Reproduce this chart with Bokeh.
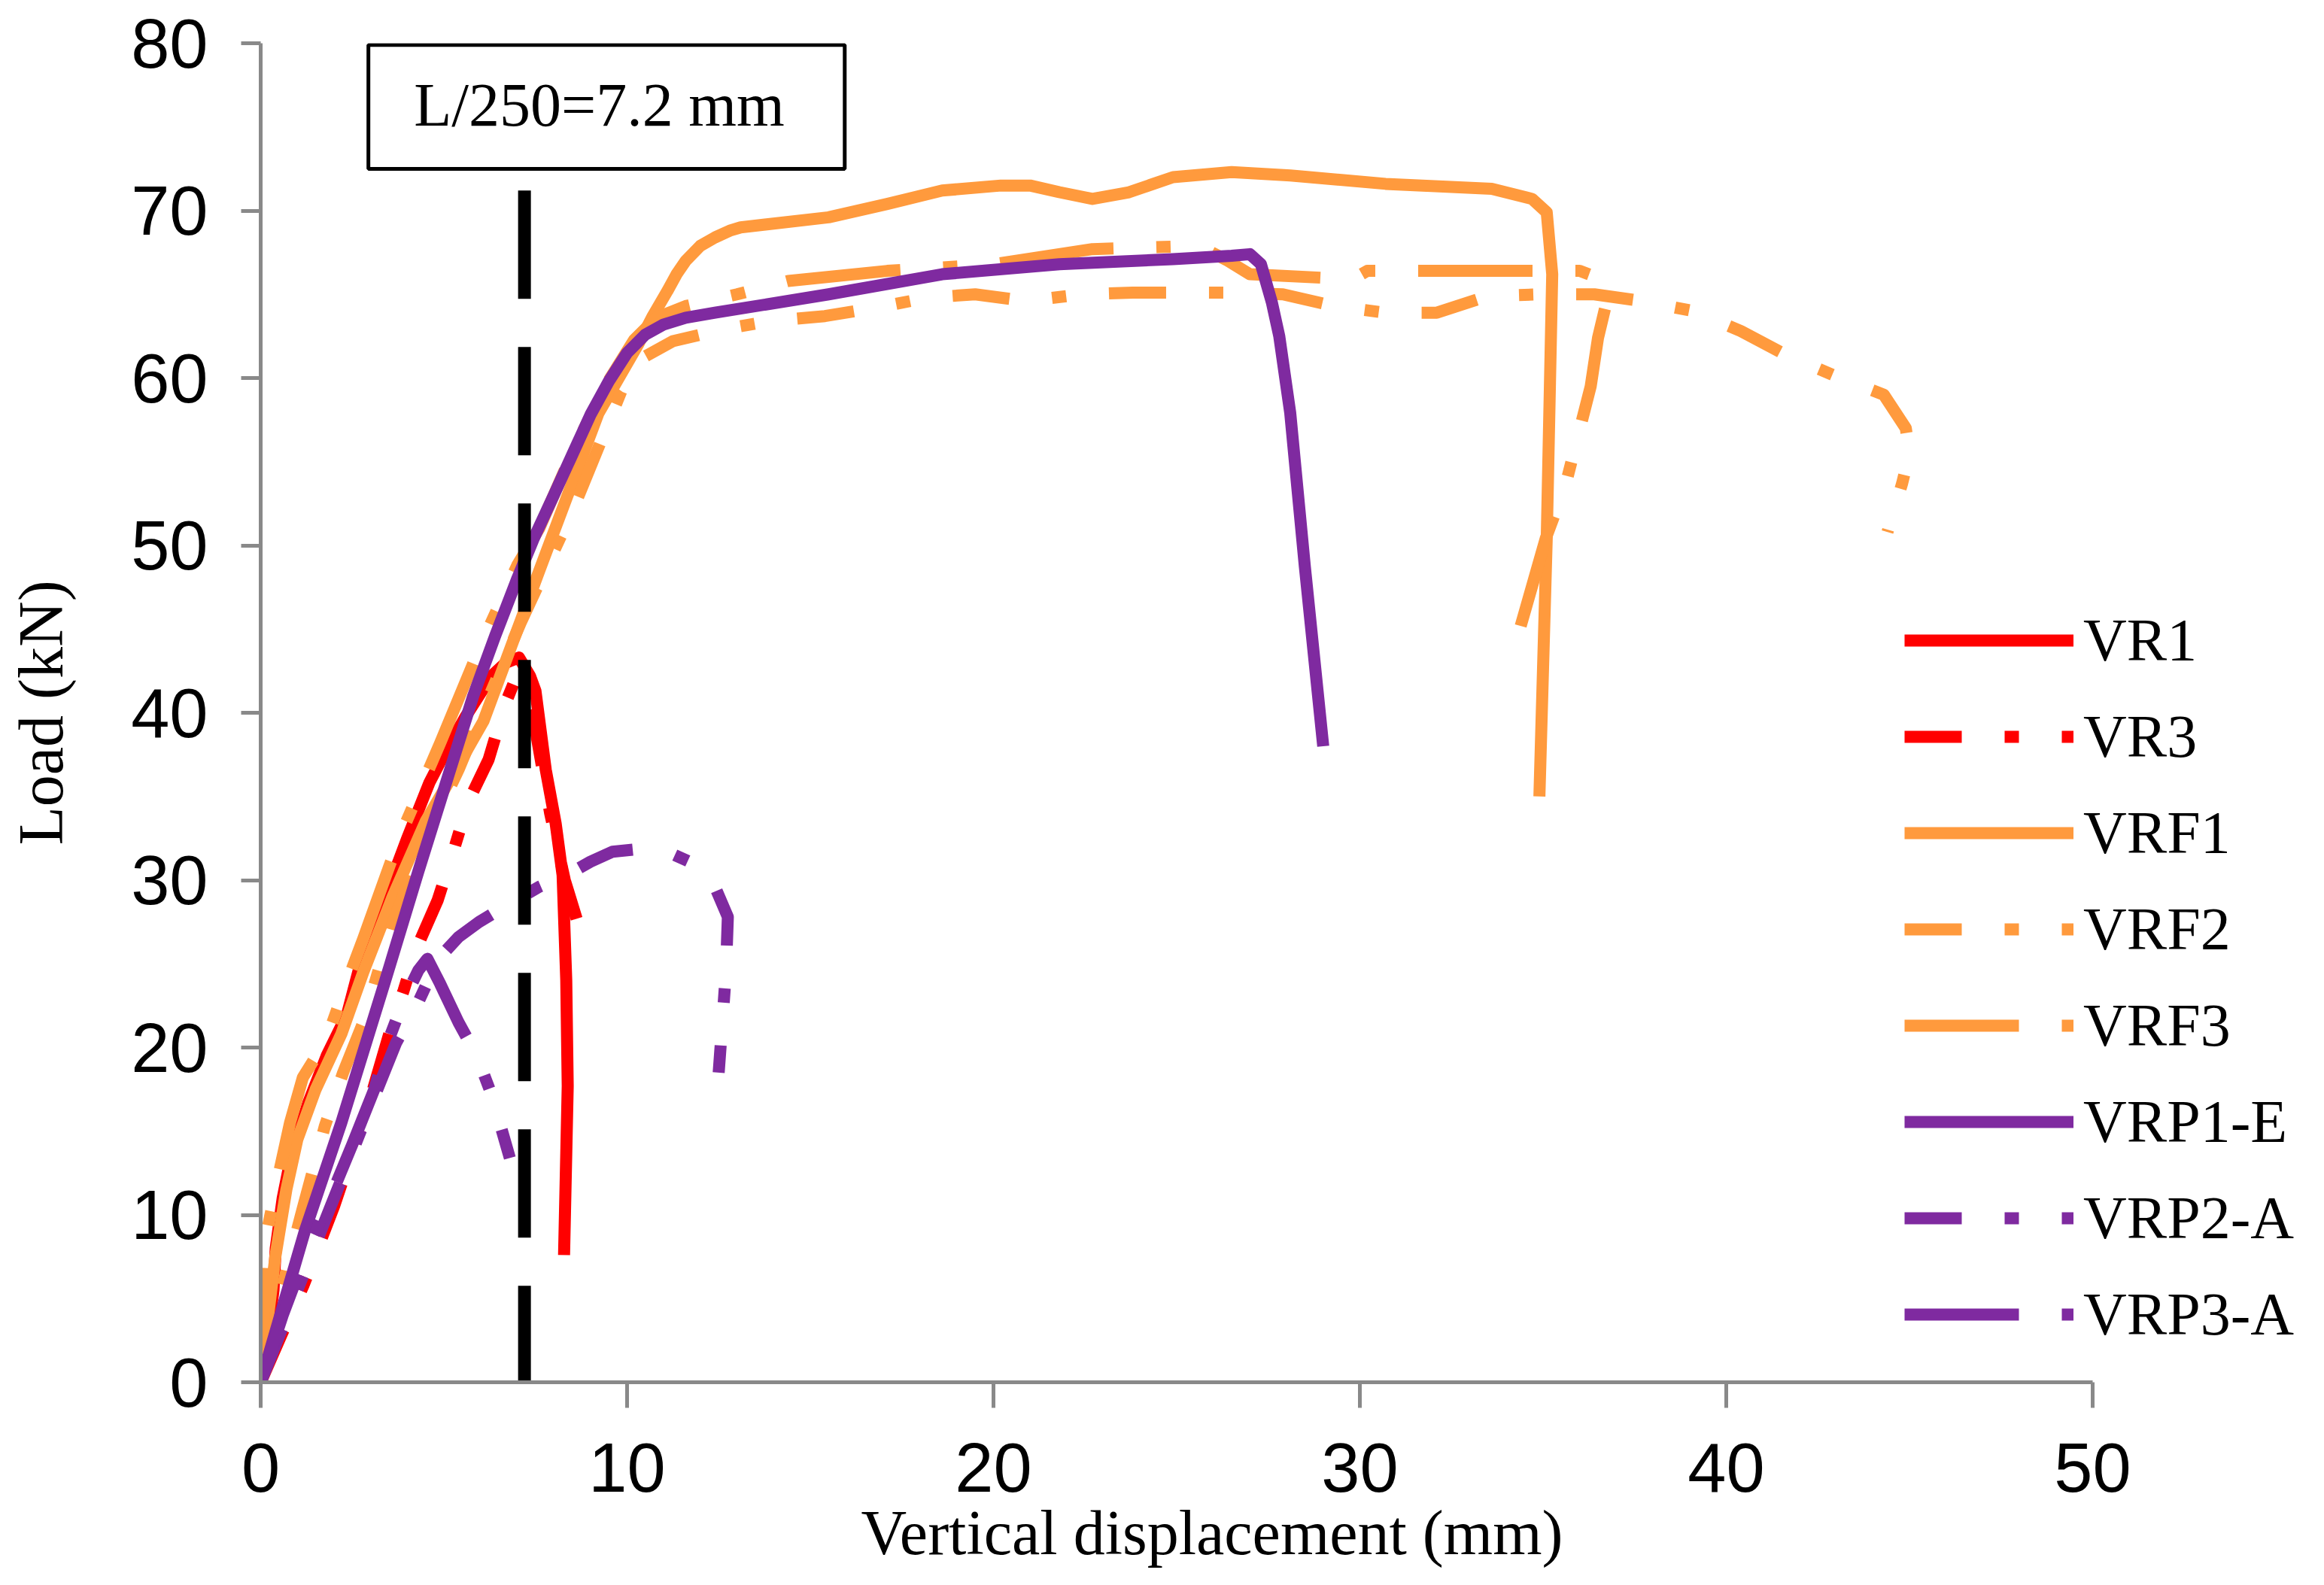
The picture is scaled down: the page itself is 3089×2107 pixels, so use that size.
from bokeh.plotting import figure
from bokeh.models import Range1d, FixedTicker, Legend, LegendItem, BoxAnnotation, Label, Title
from bokeh.embed import file_html
from bokeh.resources import INLINE

# ---------------- data ----------------
x_ticks = [0, 10, 20, 30, 40, 50]
y_ticks = [0, 10, 20, 30, 40, 50, 60, 70, 80]

vr1_x = [0, 0.2, 0.35, 0.41, 0.6, 0.83, 1.3, 1.8, 2.36, 2.9, 3.4, 4.0, 4.6, 5.0, 5.6, 6.3, 6.7, 7.05, 7.35, 7.5, 7.78, 8.05, 8.24, 8.34, 8.38, 8.28]
vr1_y = [0, 3, 5.5, 8, 11, 13.5, 16.7, 19.5, 22, 26.5, 29, 32.5, 35.8, 37.5, 39.8, 42.2, 43.0, 43.3, 42.2, 41.3, 36.6, 33.4, 30.3, 24.0, 17.7, 7.6]

vr3_x = [0, 0.6, 1.17, 2.0, 3.0, 3.6, 3.9, 4.25, 4.83, 5.27, 5.67, 6.22, 6.67, 6.95, 7.2, 7.5, 7.9, 8.3, 8.65]
vr3_y = [0, 3, 5.8, 10.5, 17, 21.5, 23.4, 25.9, 28.8, 31.8, 34.7, 37.2, 40.5, 42.0, 41.8, 39, 34, 30, 27.5]

vrf1_x = [0, 0.15, 0.4, 0.7, 1.0, 1.5, 2.2, 2.8, 3.6, 4.5, 5.3, 6.08, 7.64, 9.22, 10.3, 10.7, 11.1, 11.35, 11.6, 12.0, 12.4, 12.8, 13.1, 15.5, 17.1, 18.6, 20.2, 21.0, 21.8, 22.7, 23.7, 24.9, 26.5, 28.1, 30.7, 33.6, 34.7, 35.1, 35.25, 35.1, 34.9]
vrf1_y = [0, 3, 7.5, 11.5, 14.5, 17.5, 20.8, 24.5, 29, 33.5, 36.5, 39.5, 48.7, 57.9, 62.0, 63.7, 65.2, 66.2, 67.0, 67.9, 68.4, 68.8, 69.0, 69.6, 70.4, 71.2, 71.5, 71.5, 71.1, 70.7, 71.1, 72.0, 72.3, 72.1, 71.6, 71.3, 70.7, 69.9, 66.2, 50.4, 35.0]

vrf2_x = [0, 0.4, 0.8, 1.15, 1.75, 2.25, 2.8, 3.55, 4.4, 5.4, 6.2, 7.1, 8.48, 9.84, 10.5, 11.25, 12.6, 13.9, 15.4, 16.8, 18.2, 19.5, 20.9, 22.4, 23.8, 25.2, 26.6, 27.9, 29.3, 30.7, 32.1, 33.5, 34.9, 36.4, 37.7, 39.1, 40.4, 41.7, 43.0, 44.3, 44.9, 45.0, 44.8, 44.4]
vrf2_y = [0, 4, 7.5, 10.4, 15.3, 18.5, 21.5, 27.1, 32, 36.6, 40.8, 45.4, 51.9, 59.2, 61.3, 62.2, 62.9, 63.4, 63.7, 64.2, 64.8, 65.0, 64.6, 65.0, 65.1, 65.1, 65.1, 65.0, 64.3, 63.9, 63.9, 64.9, 65.0, 65.0, 64.6, 64.0, 62.8, 61.3, 60.1, 59.0, 57.0, 55.5, 53.7, 50.8]

vrf3_x = [0, 0.1, 0.2, 0.5, 0.8, 1.15, 1.8, 2.3, 2.8, 3.8, 4.9, 6.0, 7.0, 7.6, 8.5, 9.4, 10.2, 10.8, 11.6, 13.0, 14.4, 17.1, 20.0, 22.7, 25.6, 26.4, 27.0, 29.8, 30.2, 34.0, 36.0, 36.5, 36.75, 36.5, 36.3, 35.6, 35.07, 34.3]
vrf3_y = [0, 5, 9.3, 12.5, 15.5, 18.2, 20.5, 23.6, 26.5, 32.6, 38.2, 44, 48.8, 51, 55.5, 59.5, 62.3, 63.6, 64.3, 65.0, 65.8, 66.4, 66.8, 67.7, 67.9, 67.0, 66.2, 65.9, 66.4, 66.4, 66.4, 66.0, 64.7, 62.4, 59.5, 53.5, 50.4, 44.5]

vrp1_x = [0, 1.2, 2.2, 3.4, 4.3, 5.2, 5.8, 6.4, 7.0, 7.45, 8.0, 8.5, 9.0, 9.5, 10.0, 10.5, 11.0, 11.6, 12.4, 15.5, 18.6, 21.8, 24.9, 26.5, 27.0, 27.3, 27.6, 27.8, 28.1, 28.5, 29.0]
vrp1_y = [0, 9, 15.5, 24, 30.5, 36.8, 41, 44.6, 48, 50.4, 53, 55.4, 57.8, 59.8, 61.5, 62.6, 63.2, 63.6, 63.9, 65.0, 66.2, 66.8, 67.1, 67.3, 67.4, 66.8, 64.5, 62.5, 57.9, 48.7, 38.0]

vrp2_x = [0, 1, 2, 3, 3.7, 4.3, 4.85, 5.4, 5.96, 6.8, 7.6, 8.35, 9.0, 9.6, 10.5, 11.3, 12.0, 12.4, 12.75, 12.7, 12.6, 12.5]
vrp2_y = [0, 5.5, 11, 16.5, 20.3, 22.7, 25.3, 26.6, 27.5, 28.6, 29.6, 30.3, 31.1, 31.7, 31.9, 31.5, 30.8, 29.6, 27.8, 24.6, 21.5, 18.5]

vrp3_x = [0, 0.6, 1.2, 1.8, 2.5, 3.1, 3.5, 3.9, 4.3, 4.55, 4.9, 5.4, 5.9, 6.3, 6.55, 6.8]
vrp3_y = [0, 4, 7.5, 10.5, 14.2, 17.5, 20.5, 22.8, 24.6, 25.3, 23.8, 21.5, 19.5, 17.2, 15.3, 13.4]

limit_x = [7.2, 7.2]
limit_y = [71.2, 0]

series = [
    ("VR1", vr1_x, vr1_y, "#FF0000", "solid"),
    ("VR3", vr3_x, vr3_y, "#FF0000", "76 57 19 57"),
    ("VRF1", vrf1_x, vrf1_y, "#FF9A3D", "solid"),
    ("VRF2", vrf2_x, vrf2_y, "#FF9A3D", "76 57 19 57"),
    ("VRF3", vrf3_x, vrf3_y, "#FF9A3D", "152 57 19 57"),
    ("VRP1-E", vrp1_x, vrp1_y, "#7F2AA0", "solid"),
    ("VRP2-A", vrp2_x, vrp2_y, "#7F2AA0", "76 57 19 57"),
    ("VRP3-A", vrp3_x, vrp3_y, "#7F2AA0", "152 57 19 57"),
]

# ---------------- figure ----------------
# the frame runs to the right edge so the legend (which sits right of x=50) is not clipped;
# the x axis itself is bounded to 0..50
p = figure(width=3070, height=2099, x_range=Range1d(0, 55.77), y_range=Range1d(0, 80),
           output_backend="svg", toolbar_location=None,
           min_border_left=346, min_border_right=8, min_border_top=57, min_border_bottom=262)
p.outline_line_color = None
p.xgrid.visible = False
p.ygrid.visible = False
p.background_fill_color = "white"
p.border_fill_color = "white"

items = []
for name, xs, ys, col, dash in series:
    r = p.line(xs, ys, line_color=col, line_width=16, line_dash=dash, line_join="round")
    items.append(LegendItem(label=name, renderers=[r]))

p.line(limit_x, limit_y, line_color="black", line_width=17, line_dash="144 64")

box = BoxAnnotation(left=2.94, right=15.94, bottom=72.5, top=79.9,
                    fill_color="white", fill_alpha=1.0,
                    line_color="black", line_alpha=1.0, line_width=5)
p.add_layout(box)
p.add_layout(Label(x=9.24, y=76.3, text="L/250=7.2 mm", text_align="center", text_baseline="middle",
                   text_font="Liberation Serif", text_font_size="82px", text_color="black"))

for ax, ticks in ((p.xaxis[0], x_ticks), (p.yaxis[0], y_ticks)):
    ax.ticker = FixedTicker(ticks=ticks)
    ax.minor_tick_line_color = None
    ax.axis_line_color = "#898989"
    ax.axis_line_width = 5
    ax.major_tick_line_color = "#898989"
    ax.major_tick_line_width = 5
    ax.major_tick_in = 0
    ax.major_label_text_font = "Liberation Sans"
    ax.major_label_text_font_size = "92px"
    ax.major_label_text_color = "black"

p.xaxis[0].bounds = (0, 50)
p.yaxis[0].bounds = (0, 80)
p.xaxis[0].major_tick_out = 34
p.yaxis[0].major_tick_out = 26
p.xaxis[0].major_label_standoff = 47
p.yaxis[0].major_label_standoff = 44

p.yaxis[0].axis_label = "Load (kN)"
p.yaxis[0].axis_label_standoff = 70
p.yaxis[0].axis_label_text_font = "Liberation Serif"
p.yaxis[0].axis_label_text_font_size = "84px"
p.yaxis[0].axis_label_text_font_style = "normal"
p.yaxis[0].axis_label_text_color = "black"

# x-axis title as a below-panel Title, offset from the frame's left edge like the reference
p.add_layout(Title(text="Vertical displacement (mm)", align="left", offset=798,
                   vertical_align="top", standoff=10,
                   text_font="Liberation Serif", text_font_size="84px",
                   text_font_style="normal", text_color="black"), "below")

legend = Legend(items=items, location=(2185, 40), orientation="vertical",
                label_text_font="Liberation Serif", label_text_font_size="80px",
                label_text_color="black", glyph_width=225, glyph_height=100,
                label_height=100, spacing=28, label_standoff=13,
                padding=0, margin=0, border_line_color=None, background_fill_alpha=0)
p.add_layout(legend, "center")

open("out.html", "w").write(file_html(p, INLINE))
